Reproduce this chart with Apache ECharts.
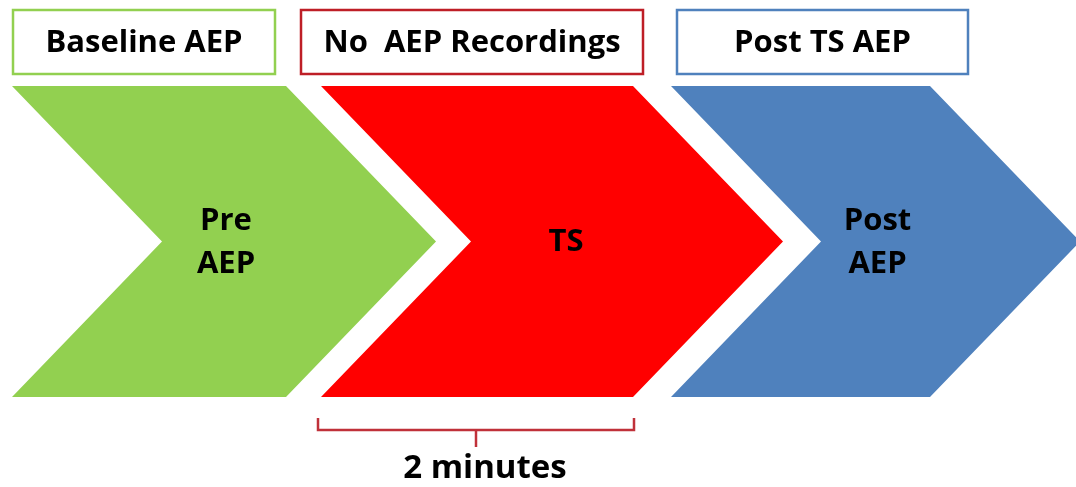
<!DOCTYPE html>
<html>
<head>
<meta charset="utf-8">
<script src="https://cdn.jsdelivr.net/npm/echarts@6/dist/echarts.min.js"></script>
<style>
html,body{margin:0;padding:0;background:#fff;}
#main{width:1076px;height:487px;}
</style>
</head>
<body>
<div id="main"></div>
<script>
// ---- data ----
var stageLabels = ['Pre\nAEP', 'TS', 'Post\nAEP'];
var stageStart = [12, 321, 671];
var stageEnd = [286, 633, 930];
var phaseLabels = ['Baseline AEP', 'No  AEP Recordings', 'Post TS AEP'];
var phaseStart = [13, 301, 677];
var phaseEnd = [275, 643, 968];
var durationLabel = '2 minutes';
var durationStart = [318];
var durationEnd = [634];

// ---- styles ----
var fillColors = ['#92D050', '#FF0000', '#4F81BD'];
var borderColors = ['#92D050', '#BE1E26', '#4F81BD'];
var FONT_TOP = 'bold 31px "Open Sans", "Noto Sans", sans-serif';
var FONT_MID = 'bold 31px "Open Sans", "Noto Sans", sans-serif';
var FONT_BOT = 'bold 33px "Open Sans", "Noto Sans", sans-serif';

var chart = echarts.init(document.getElementById('main'), null, {renderer: 'canvas'});

function txt(text, x, y, font, lh) {
  return {
    type: 'text',
    style: {
      text: text, x: x, y: y, font: font, fill: '#000',
      align: 'center', verticalAlign: 'middle',
      textAlign: 'center', textVerticalAlign: 'middle',
      lineHeight: lh || 43
    }
  };
}

var chevronData = stageStart.map(function (s, i) { return [s, stageEnd[i], i]; });
var boxData = phaseStart.map(function (s, i) { return [s, phaseEnd[i], i]; });
var bracketData = durationStart.map(function (s, i) { return [s, durationEnd[i], i]; });

chart.setOption({
  animation: false,
  backgroundColor: '#fff',
  grid: {left: 0, right: 0, top: 0, bottom: 0},
  xAxis: {type: 'value', min: 0, max: 1076, show: false},
  yAxis: {type: 'value', min: 0, max: 487, inverse: true, show: false},
  series: [
    {
      type: 'custom',
      clip: false,
      data: chevronData,
      renderItem: function (params, api) {
        var i = api.value(2);
        var tl = api.coord([api.value(0), 86]);
        var tr = api.coord([api.value(1), 86]);
        var bl = api.coord([api.value(0), 397]);
        var d = 150;
        var midY = (tl[1] + bl[1]) / 2;
        var pts = [
          [tl[0], tl[1]], [tr[0], tr[1]], [tr[0] + d, midY],
          [tr[0], bl[1]], [bl[0], bl[1]], [tl[0] + d, midY]
        ];
        var cx = (tl[0] + tr[0] + d) / 2;
        return {
          type: 'group',
          children: [
            {type: 'polygon', shape: {points: pts}, style: {fill: fillColors[i]}},
            txt(stageLabels[i], cx + (i === 1 ? 14 : 2), midY + 1, FONT_MID, 43)
          ]
        };
      }
    },
    {
      type: 'custom',
      clip: false,
      data: boxData,
      renderItem: function (params, api) {
        var i = api.value(2);
        var a = api.coord([api.value(0), 10]);
        var b = api.coord([api.value(1), 74]);
        return {
          type: 'group',
          children: [
            {type: 'rect', shape: {x: a[0], y: a[1], width: b[0] - a[0], height: b[1] - a[1]},
             style: {fill: '#fff', stroke: borderColors[i], lineWidth: 2.5}},
            txt(phaseLabels[i], (a[0] + b[0]) / 2, (a[1] + b[1]) / 2 + 1, FONT_TOP)
          ]
        };
      }
    },
    {
      type: 'custom',
      clip: false,
      data: bracketData,
      renderItem: function (params, api) {
        var a = api.coord([api.value(0), 418]);
        var b = api.coord([api.value(1), 430]);
        var cx = (a[0] + b[0]) / 2;
        var tip = api.coord([0, 447])[1];
        var st = {stroke: '#C0313A', lineWidth: 2.5, fill: null};
        return {
          type: 'group',
          children: [
            {type: 'polyline', shape: {points: [[a[0], a[1]], [a[0], b[1]], [b[0], b[1]], [b[0], a[1]]]}, style: st},
            {type: 'polyline', shape: {points: [[cx, b[1]], [cx, tip]]}, style: st},
            txt(durationLabel, cx + 9, 469, FONT_BOT)
          ]
        };
      }
    }
  ]
});
</script>
</body>
</html>
